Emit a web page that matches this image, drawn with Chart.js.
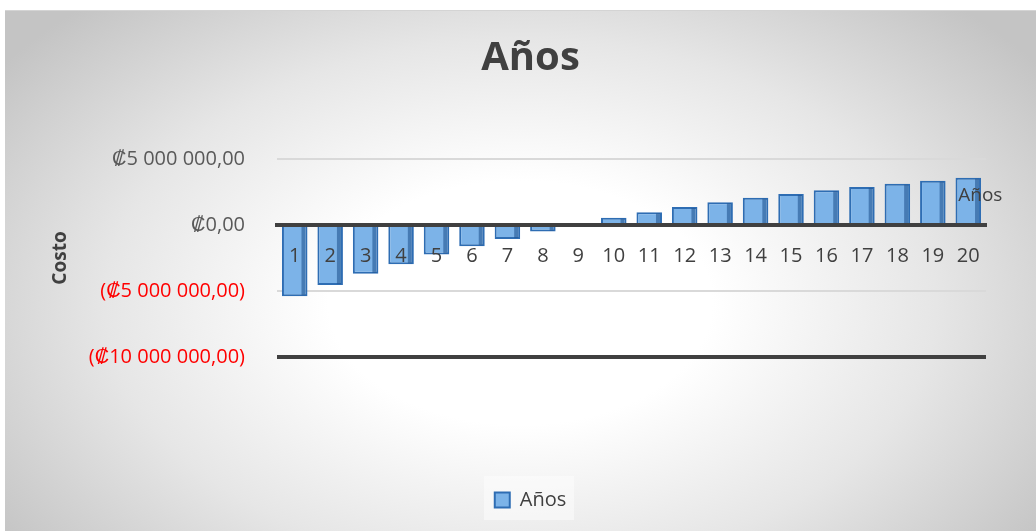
<!DOCTYPE html>
<html>
<head>
<meta charset="utf-8">
<script src="https://cdn.jsdelivr.net/npm/chart.js@4/dist/chart.umd.min.js"></script>
<style>
  html, body { margin: 0; padding: 0; background: #fff; }
  #wrap {
    position: absolute; left: 5px; top: 10px; width: 1031px; height: 521px;
    background: radial-gradient(ellipse 62% 78% at 50% 56%, #ffffff 30%, #e6e6e6 65%, #c4c4c4 100%);
    border-top: 1px solid #d4d4d4;
  }
</style>
</head>
<body>
<div id="wrap"><canvas id="myChart" width="1031" height="521"></canvas></div>
<script>
// chart data
const years = ['1', '2', '3', '4', '5', '6', '7', '8', '9', '10',
               '11', '12', '13', '14', '15', '16', '17', '18', '19', '20'];
const costs = [-5400000, -4550000, -3700000, -2980000, -2240000, -1610000, -1060000, -500000, 30000, 550000,
               960000, 1360000, 1720000, 2070000, 2350000, 2630000, 2880000, 3130000, 3360000, 3580000];
const seriesName = 'Años';
const yTicks = [5000000, 0, -5000000, -10000000];

function colones(v) {
    const s = '₡' + Math.abs(v).toLocaleString('fr-FR', { minimumFractionDigits: 2, maximumFractionDigits: 2 })
        .replace(/\u202f|\u00a0/g, ' ');
    return v < 0 ? '(' + s + ')' : s;
}

// title and legend sit a bit right of centre in the original
const shiftBlocks = {
    id: 'shiftBlocks',
    afterLayout(chart) {
        [chart.titleBlock, chart.legend].forEach(b => { b.left += 15; b.right += 15; });
    },
    beforeDraw(chart) {
        // light panel behind the legend
        const lg = chart.legend;
        const ctx = chart.ctx;
        ctx.save();
        ctx.fillStyle = 'rgba(255,255,255,0.45)';
        ctx.fillRect(479, lg.bottom - 44, 90, 44);
        ctx.restore();
    }
};

// darker right edge on each bar + series name beside the last bar
const barExtras = {
    id: 'barExtras',
    afterDatasetsDraw(chart) {
        const ctx = chart.ctx;
        const meta = chart.getDatasetMeta(0);
        ctx.save();
        meta.data.forEach(bar => {
            const top = Math.min(bar.y, bar.base), bottom = Math.max(bar.y, bar.base);
            if (bottom - top < 3) return;
            ctx.fillStyle = 'rgba(35,85,145,0.6)';
            ctx.fillRect(bar.x + bar.width / 2 - 6, top + 1, 4, bottom - top - 2);
        });
        const last = meta.data[meta.data.length - 1];
        ctx.font = '19px "Open Sans"';
        ctx.fillStyle = '#404040';
        ctx.textAlign = 'left';
        ctx.textBaseline = 'middle';
        ctx.fillText(seriesName, last.x - 10, (last.y + last.base) / 2 - 5);
        ctx.restore();
    }
};

Chart.defaults.font.family = '"Open Sans", sans-serif';

const ctx = document.getElementById('myChart').getContext('2d');
const myChart = new Chart(ctx, {
    type: 'bar',
    data: {
        labels: years,
        datasets: [{
            label: seriesName,
            data: costs,
            backgroundColor: '#7cb3e8',
            borderColor: '#2e6db3',
            borderWidth: 2,
            categoryPercentage: 0.8,
            barPercentage: 0.9
        }]
    },
    options: {
        responsive: false,
        animation: false,
        layout: { padding: { left: 40, right: 50, bottom: 12 } },
        scales: {
            x: {
                position: { y: 0 },
                grid: { display: false },
                border: { display: true, color: '#404040', width: 4, z: 1 },
                ticks: { color: '#404040', font: { size: 20 }, padding: 11, maxRotation: 0, z: 1 }
            },
            y: {
                min: -10000000,
                max: 5000000,
                afterBuildTicks: axis => { axis.ticks = yTicks.map(v => ({ value: v })); },
                afterFit: axis => { axis.width = 232; },
                border: { display: false },
                grid: {
                    drawTicks: false,
                    color: c => c.tick && c.tick.value === -10000000 ? '#404040' : '#d9d9d9',
                    lineWidth: c => c.tick && c.tick.value === -10000000 ? 4 : 2
                },
                ticks: {
                    padding: 32,
                    font: { size: 20 },
                    color: c => c.tick.value < 0 ? '#ff0000' : '#595959',
                    callback: v => colones(v)
                },
                title: {
                    display: true,
                    text: 'Costo',
                    color: '#404040',
                    font: { size: 19, weight: 'bold' }
                }
            }
        },
        plugins: {
            title: {
                display: true,
                text: seriesName,
                color: '#404040',
                font: { size: 40, weight: 'bold' },
                padding: { top: 24, bottom: 76 }
            },
            legend: {
                display: true,
                position: 'bottom',
                labels: {
                    color: '#404040',
                    font: { size: 20 },
                    boxWidth: 15,
                    boxHeight: 15,
                    padding: 133
                }
            },
            tooltip: { enabled: false }
        }
    },
    plugins: [shiftBlocks, barExtras]
});
</script>
</body>
</html>
